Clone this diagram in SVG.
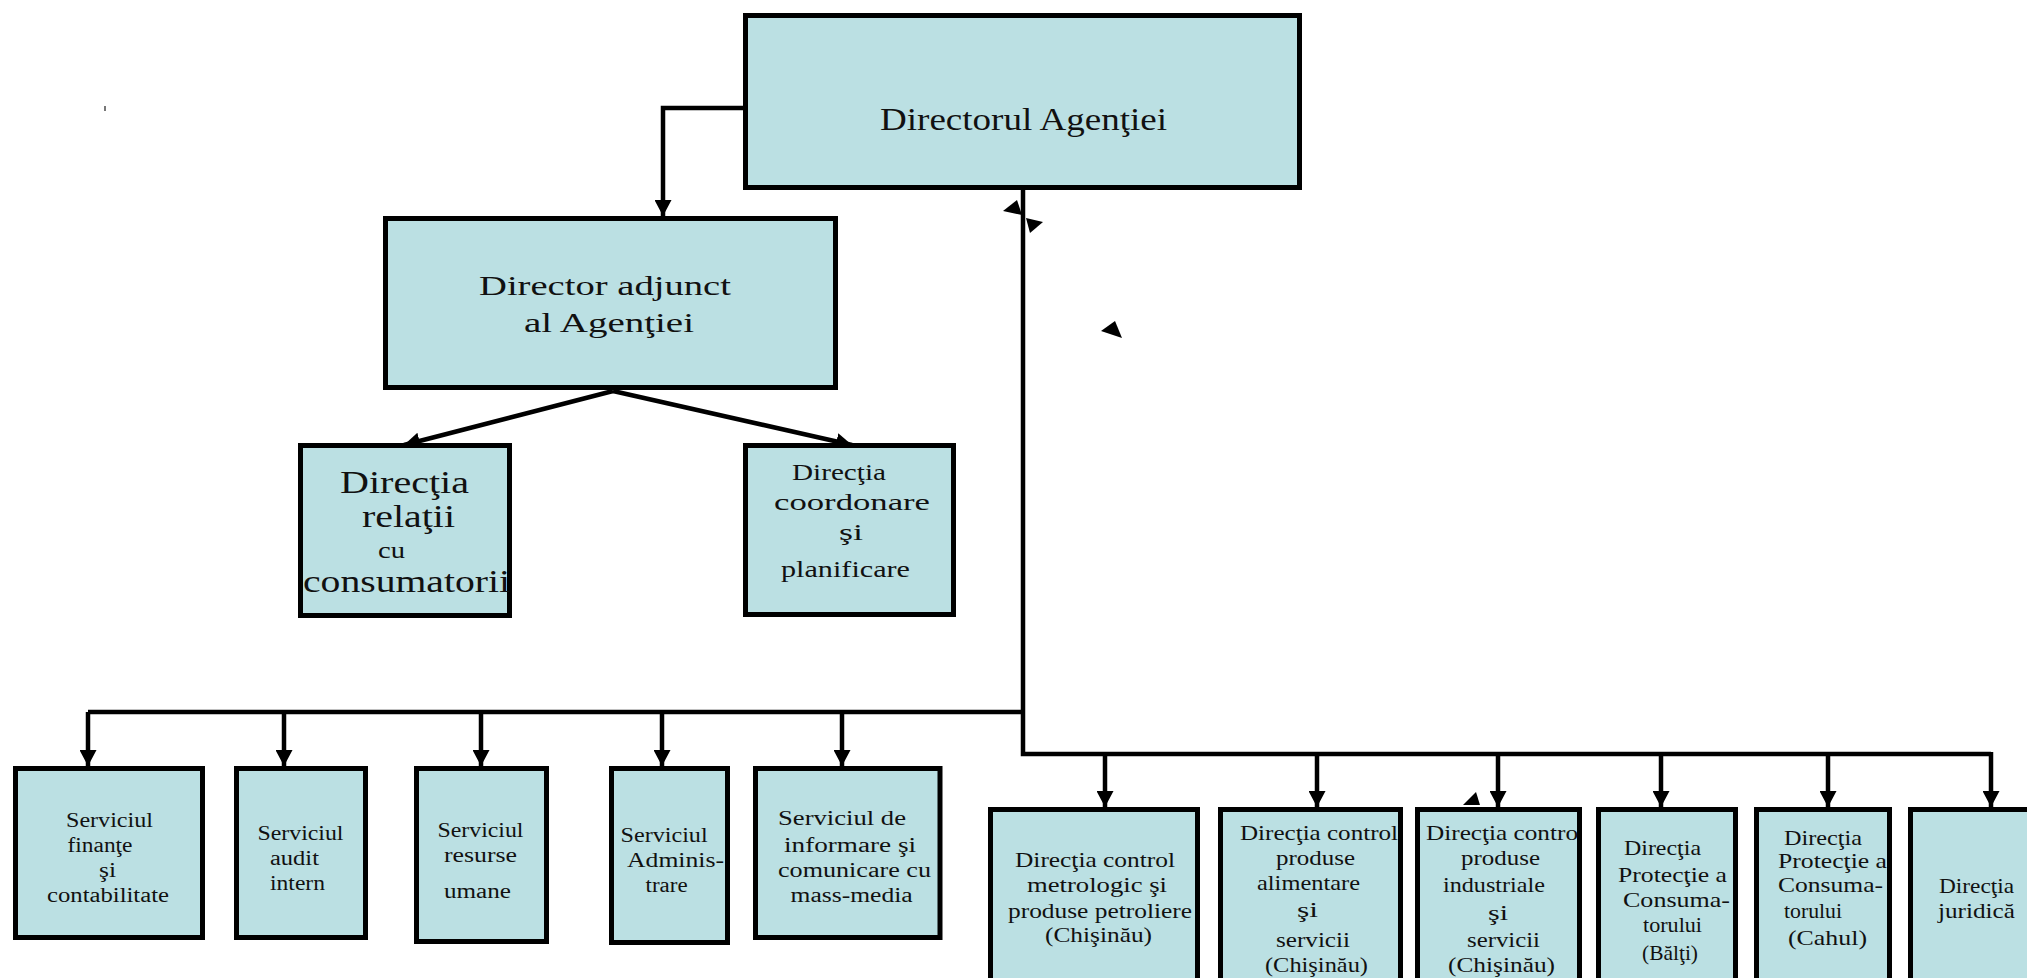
<svg xmlns="http://www.w3.org/2000/svg" width="2027" height="978" viewBox="0 0 2027 978">
<style>
.box{fill:#BBE0E3;stroke:#000;stroke-width:5}
.t{font-family:"Liberation Serif","Times New Roman",serif;fill:#111}
.s20{font-size:20px}.s21{font-size:21px}.s23{font-size:23px}.s24{font-size:24px}.s27{font-size:28px}.s31{font-size:32px}.s32{font-size:32px}
.con{fill:none;stroke:#000;stroke-width:4.5}
.arr{marker-end:url(#ah)}
</style>
<defs>
<marker id="ah" markerUnits="userSpaceOnUse" markerWidth="17" markerHeight="17" viewBox="0 0 17 17" refX="16" refY="8.5" orient="auto">
<path d="M0,0 L16,8.5 L0,17 z" fill="#000"/>
</marker>
</defs>
<rect width="2027" height="978" fill="#fff"/>
<rect x="104" y="106" width="2" height="5" fill="#777"/>

<g id="connectors">
<path class="con arr" d="M743,108 H663 V216"/>
<path class="con arr" d="M613,391 L404,445"/>
<path class="con arr" d="M613,391 L852,445"/>
<path class="con" d="M1023,190 V754 H1991"/>
<path class="con" d="M1023,712 H88"/>
<path class="con arr" d="M88,712 V766"/>
<path class="con arr" d="M284,712 V766"/>
<path class="con arr" d="M481,712 V766"/>
<path class="con arr" d="M662,712 V766"/>
<path class="con arr" d="M842,712 V766"/>
<path class="con arr" d="M1105,754 V807"/>
<path class="con arr" d="M1317,754 V807"/>
<path class="con arr" d="M1498,754 V807"/>
<path class="con arr" d="M1661,754 V807"/>
<path class="con arr" d="M1828,754 V807"/>
<path class="con arr" d="M1991,752 V807"/>
<polygon points="1003,211 1017,200 1022,215" fill="#000"/>
<polygon points="1026,218 1043,222 1030,233" fill="#000"/>
<polygon points="1101,331 1115,321 1122,338" fill="#000"/>
<polygon points="1463,805 1476,792 1480,805" fill="#000"/>
</g>

<g id="directorul">
<rect class="box" x="745.5" y="15.5" width="554" height="172"/>
<text class="t s31" x="880" y="130" textLength="287" lengthAdjust="spacingAndGlyphs">Directorul Agenţiei</text>
</g>

<g id="director-adjunct">
<rect class="box" x="385.5" y="218.5" width="450" height="169"/>
<text class="t s27" x="479" y="295" textLength="252" lengthAdjust="spacingAndGlyphs">Director adjunct</text>
<text class="t s27" x="524" y="332" textLength="170" lengthAdjust="spacingAndGlyphs">al Agenţiei</text>
</g>

<g id="directia-relatii">
<rect class="box" x="300.5" y="445.5" width="209" height="170"/>
<text class="t s32" x="340" y="493" textLength="129" lengthAdjust="spacingAndGlyphs">Direcţia</text>
<text class="t s32" x="362" y="527" textLength="93" lengthAdjust="spacingAndGlyphs">relaţii</text>
<text class="t s24" x="378" y="558" textLength="27" lengthAdjust="spacingAndGlyphs">cu</text>
<text class="t s32" x="303" y="592" textLength="207" lengthAdjust="spacingAndGlyphs">consumatorii</text>
</g>

<g id="directia-coordonare">
<rect class="box" x="745.5" y="445.5" width="208" height="169"/>
<text class="t s23" x="792" y="480" textLength="94" lengthAdjust="spacingAndGlyphs">Direcţia</text>
<text class="t s23" x="774" y="510" textLength="156" lengthAdjust="spacingAndGlyphs">coordonare</text>
<text class="t s23" x="839" y="540" textLength="24" lengthAdjust="spacingAndGlyphs">şi</text>
<text class="t s23" x="781" y="577" textLength="129" lengthAdjust="spacingAndGlyphs">planificare</text>
</g>

<g id="serviciul-finante">
<rect class="box" x="15.5" y="768.5" width="187" height="169"/>
<text class="t s20" x="66" y="827" textLength="87" lengthAdjust="spacingAndGlyphs">Serviciul</text>
<text class="t s20" x="67.5" y="852" textLength="65" lengthAdjust="spacingAndGlyphs">finanţe</text>
<text class="t s20" x="99" y="877" textLength="17" lengthAdjust="spacingAndGlyphs">şi</text>
<text class="t s20" x="47" y="902" textLength="122" lengthAdjust="spacingAndGlyphs">contabilitate</text>
</g>

<g id="serviciul-audit">
<rect class="box" x="236.5" y="768.5" width="129" height="169"/>
<text class="t s20" x="257.5" y="840" textLength="86" lengthAdjust="spacingAndGlyphs">Serviciul</text>
<text class="t s20" x="270" y="865" textLength="49" lengthAdjust="spacingAndGlyphs">audit</text>
<text class="t s20" x="270" y="890" textLength="55" lengthAdjust="spacingAndGlyphs">intern</text>
</g>

<g id="serviciul-resurse">
<rect class="box" x="416.5" y="768.5" width="130" height="173"/>
<text class="t s20" x="437.5" y="837" textLength="86" lengthAdjust="spacingAndGlyphs">Serviciul</text>
<text class="t s20" x="444" y="862" textLength="73" lengthAdjust="spacingAndGlyphs">resurse</text>
<text class="t s20" x="444" y="898" textLength="67" lengthAdjust="spacingAndGlyphs">umane</text>
</g>

<g id="serviciul-administrare">
<rect class="box" x="611.5" y="768.5" width="116" height="174"/>
<text class="t s20" x="620.6" y="842" textLength="87" lengthAdjust="spacingAndGlyphs">Serviciul</text>
<text class="t s20" x="627" y="867" textLength="97" lengthAdjust="spacingAndGlyphs">Adminis-</text>
<text class="t s20" x="645.6" y="892" textLength="42" lengthAdjust="spacingAndGlyphs">trare</text>
</g>

<g id="serviciul-informare">
<rect class="box" x="755.5" y="768.5" width="184.5" height="169"/>
<text class="t s20" x="778" y="825" textLength="128" lengthAdjust="spacingAndGlyphs">Serviciul  de</text>
<text class="t s20" x="784" y="852" textLength="132" lengthAdjust="spacingAndGlyphs">informare  şi</text>
<text class="t s20" x="778" y="877" textLength="153" lengthAdjust="spacingAndGlyphs">comunicare  cu</text>
<text class="t s20" x="790.6" y="902" textLength="122" lengthAdjust="spacingAndGlyphs">mass-media</text>
</g>

<g id="directia-metrologic">
<rect class="box" x="990.5" y="809.5" width="207" height="185"/>
<text class="t s21" x="1015" y="867" textLength="160" lengthAdjust="spacingAndGlyphs">Direcţia  control</text>
<text class="t s21" x="1027" y="892" textLength="140" lengthAdjust="spacingAndGlyphs">metrologic  şi</text>
<text class="t s21" x="1008" y="918" textLength="184" lengthAdjust="spacingAndGlyphs">produse petroliere</text>
<text class="t s21" x="1045" y="942" textLength="107" lengthAdjust="spacingAndGlyphs">(Chişinău)</text>
</g>

<g id="directia-alimentare">
<rect class="box" x="1220.5" y="809.5" width="180" height="185"/>
<text class="t s21" x="1240" y="840" textLength="158" lengthAdjust="spacingAndGlyphs">Direcţia  control</text>
<text class="t s21" x="1276" y="865" textLength="79" lengthAdjust="spacingAndGlyphs">produse</text>
<text class="t s21" x="1257" y="890" textLength="103" lengthAdjust="spacingAndGlyphs">alimentare</text>
<text class="t s21" x="1297" y="917" textLength="21" lengthAdjust="spacingAndGlyphs">şi</text>
<text class="t s21" x="1276" y="947" textLength="74" lengthAdjust="spacingAndGlyphs">servicii</text>
<text class="t s21" x="1265" y="972" textLength="103" lengthAdjust="spacingAndGlyphs">(Chişinău)</text>
</g>

<g id="directia-industriale">
<rect class="box" x="1417.5" y="809.5" width="162" height="185"/>
<text class="t s21" x="1426" y="840" textLength="152" lengthAdjust="spacingAndGlyphs">Direcţia  contro</text>
<text class="t s21" x="1461" y="865" textLength="79" lengthAdjust="spacingAndGlyphs">produse</text>
<text class="t s21" x="1443" y="892" textLength="102" lengthAdjust="spacingAndGlyphs">industriale</text>
<text class="t s21" x="1488" y="920" textLength="20" lengthAdjust="spacingAndGlyphs">şi</text>
<text class="t s21" x="1467" y="947" textLength="73" lengthAdjust="spacingAndGlyphs">servicii</text>
<text class="t s21" x="1448" y="972" textLength="107" lengthAdjust="spacingAndGlyphs">(Chişinău)</text>
</g>

<g id="directia-balti">
<rect class="box" x="1598.5" y="809.5" width="137" height="185"/>
<text class="t s21" x="1624" y="855" textLength="77" lengthAdjust="spacingAndGlyphs">Direcţia</text>
<text class="t s21" x="1618" y="882" textLength="109" lengthAdjust="spacingAndGlyphs">Protecţie  a</text>
<text class="t s21" x="1623" y="907" textLength="107" lengthAdjust="spacingAndGlyphs">Consuma-</text>
<text class="t s21" x="1643" y="932" textLength="59" lengthAdjust="spacingAndGlyphs">torului</text>
<text class="t s21" x="1642" y="960" textLength="56" lengthAdjust="spacingAndGlyphs">(Bălţi)</text>
</g>

<g id="directia-cahul">
<rect class="box" x="1756.5" y="809.5" width="133" height="185"/>
<text class="t s21" x="1784" y="845" textLength="78" lengthAdjust="spacingAndGlyphs">Direcţia</text>
<text class="t s21" x="1778" y="868" textLength="109" lengthAdjust="spacingAndGlyphs">Protecţie  a</text>
<text class="t s21" x="1778" y="892" textLength="105" lengthAdjust="spacingAndGlyphs">Consuma-</text>
<text class="t s21" x="1784" y="918" textLength="58" lengthAdjust="spacingAndGlyphs">torului</text>
<text class="t s21" x="1788" y="945" textLength="79" lengthAdjust="spacingAndGlyphs">(Cahul)</text>
</g>

<g id="directia-juridica">
<rect class="box" x="1910.5" y="809.5" width="140" height="185"/>
<text class="t s21" x="1939" y="893" textLength="75" lengthAdjust="spacingAndGlyphs">Direcţia</text>
<text class="t s21" x="1938" y="918" textLength="77" lengthAdjust="spacingAndGlyphs">juridică</text>
</g>
</svg>
